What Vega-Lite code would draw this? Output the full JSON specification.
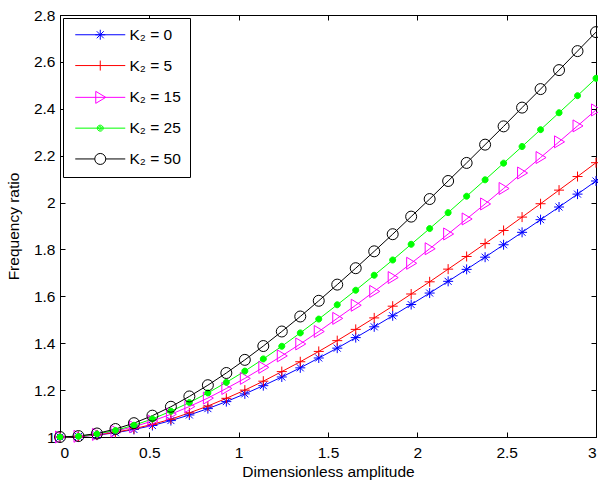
{
  "$schema": "https://vega.github.io/schema/vega-lite/v6.json",
  "width": 536,
  "height": 422,
  "autosize": {"type": "none"},
  "padding": {"left": 60, "top": 15, "right": 2, "bottom": 48},
  "background": "white",
  "config": {
    "font": "Liberation Sans",
    "view": {"stroke": "black", "strokeWidth": 1},
    "axis": {
      "grid": false, "domainColor": "black", "tickColor": "black", "labelColor": "black",
      "titleColor": "black", "labelFont": "Liberation Sans", "titleFont": "Liberation Sans",
      "labelFontSize": 15.5, "titleFontSize": 15.5, "titleFontWeight": "normal",
      "tickSize": -5, "domainWidth": 1, "tickWidth": 1
    },
    "legend": {"symbolOpacity": 1}
  },
  "data": {"values": [
    {"a":0,"y":1,"K":"0"},{"a":0.1034,"y":1.002,"K":"0"},{"a":0.2069,"y":1.008,"K":"0"},{"a":0.3103,"y":1.018,"K":"0"},{"a":0.4138,"y":1.032,"K":"0"},{"a":0.5172,"y":1.049,"K":"0"},{"a":0.6207,"y":1.070,"K":"0"},{"a":0.7241,"y":1.094,"K":"0"},{"a":0.8276,"y":1.121,"K":"0"},{"a":0.9310,"y":1.151,"K":"0"},{"a":1.0345,"y":1.184,"K":"0"},{"a":1.1379,"y":1.219,"K":"0"},{"a":1.2414,"y":1.256,"K":"0"},{"a":1.3448,"y":1.295,"K":"0"},{"a":1.4483,"y":1.337,"K":"0"},{"a":1.5517,"y":1.379,"K":"0"},{"a":1.6552,"y":1.424,"K":"0"},{"a":1.7586,"y":1.470,"K":"0"},{"a":1.8621,"y":1.517,"K":"0"},{"a":1.9655,"y":1.565,"K":"0"},{"a":2.0690,"y":1.614,"K":"0"},{"a":2.1724,"y":1.664,"K":"0"},{"a":2.2759,"y":1.715,"K":"0"},{"a":2.3793,"y":1.767,"K":"0"},{"a":2.4828,"y":1.820,"K":"0"},{"a":2.5862,"y":1.873,"K":"0"},{"a":2.6897,"y":1.927,"K":"0"},{"a":2.7931,"y":1.981,"K":"0"},{"a":2.8966,"y":2.036,"K":"0"},{"a":3,"y":2.092,"K":"0"},
    {"a":0,"y":1,"K":"5"},{"a":0.1034,"y":1.002,"K":"5"},{"a":0.2069,"y":1.009,"K":"5"},{"a":0.3103,"y":1.020,"K":"5"},{"a":0.4138,"y":1.035,"K":"5"},{"a":0.5172,"y":1.054,"K":"5"},{"a":0.6207,"y":1.076,"K":"5"},{"a":0.7241,"y":1.103,"K":"5"},{"a":0.8276,"y":1.132,"K":"5"},{"a":0.9310,"y":1.165,"K":"5"},{"a":1.0345,"y":1.200,"K":"5"},{"a":1.1379,"y":1.238,"K":"5"},{"a":1.2414,"y":1.279,"K":"5"},{"a":1.3448,"y":1.321,"K":"5"},{"a":1.4483,"y":1.365,"K":"5"},{"a":1.5517,"y":1.411,"K":"5"},{"a":1.6552,"y":1.459,"K":"5"},{"a":1.7586,"y":1.508,"K":"5"},{"a":1.8621,"y":1.558,"K":"5"},{"a":1.9655,"y":1.610,"K":"5"},{"a":2.0690,"y":1.662,"K":"5"},{"a":2.1724,"y":1.716,"K":"5"},{"a":2.2759,"y":1.770,"K":"5"},{"a":2.3793,"y":1.825,"K":"5"},{"a":2.4828,"y":1.881,"K":"5"},{"a":2.5862,"y":1.938,"K":"5"},{"a":2.6897,"y":1.995,"K":"5"},{"a":2.7931,"y":2.053,"K":"5"},{"a":2.8966,"y":2.111,"K":"5"},{"a":3,"y":2.170,"K":"5"},
    {"a":0,"y":1,"K":"15"},{"a":0.1034,"y":1.003,"K":"15"},{"a":0.2069,"y":1.011,"K":"15"},{"a":0.3103,"y":1.025,"K":"15"},{"a":0.4138,"y":1.044,"K":"15"},{"a":0.5172,"y":1.068,"K":"15"},{"a":0.6207,"y":1.097,"K":"15"},{"a":0.7241,"y":1.130,"K":"15"},{"a":0.8276,"y":1.166,"K":"15"},{"a":0.9310,"y":1.207,"K":"15"},{"a":1.0345,"y":1.250,"K":"15"},{"a":1.1379,"y":1.297,"K":"15"},{"a":1.2414,"y":1.346,"K":"15"},{"a":1.3448,"y":1.397,"K":"15"},{"a":1.4483,"y":1.450,"K":"15"},{"a":1.5517,"y":1.506,"K":"15"},{"a":1.6552,"y":1.562,"K":"15"},{"a":1.7586,"y":1.621,"K":"15"},{"a":1.8621,"y":1.680,"K":"15"},{"a":1.9655,"y":1.741,"K":"15"},{"a":2.0690,"y":1.803,"K":"15"},{"a":2.1724,"y":1.866,"K":"15"},{"a":2.2759,"y":1.930,"K":"15"},{"a":2.3793,"y":1.994,"K":"15"},{"a":2.4828,"y":2.060,"K":"15"},{"a":2.5862,"y":2.126,"K":"15"},{"a":2.6897,"y":2.192,"K":"15"},{"a":2.7931,"y":2.259,"K":"15"},{"a":2.8966,"y":2.327,"K":"15"},{"a":3,"y":2.395,"K":"15"},
    {"a":0,"y":1,"K":"25"},{"a":0.1034,"y":1.003,"K":"25"},{"a":0.2069,"y":1.013,"K":"25"},{"a":0.3103,"y":1.028,"K":"25"},{"a":0.4138,"y":1.050,"K":"25"},{"a":0.5172,"y":1.077,"K":"25"},{"a":0.6207,"y":1.110,"K":"25"},{"a":0.7241,"y":1.147,"K":"25"},{"a":0.8276,"y":1.188,"K":"25"},{"a":0.9310,"y":1.233,"K":"25"},{"a":1.0345,"y":1.281,"K":"25"},{"a":1.1379,"y":1.333,"K":"25"},{"a":1.2414,"y":1.387,"K":"25"},{"a":1.3448,"y":1.444,"K":"25"},{"a":1.4483,"y":1.503,"K":"25"},{"a":1.5517,"y":1.564,"K":"25"},{"a":1.6552,"y":1.626,"K":"25"},{"a":1.7586,"y":1.690,"K":"25"},{"a":1.8621,"y":1.755,"K":"25"},{"a":1.9655,"y":1.822,"K":"25"},{"a":2.0690,"y":1.889,"K":"25"},{"a":2.1724,"y":1.957,"K":"25"},{"a":2.2759,"y":2.027,"K":"25"},{"a":2.3793,"y":2.097,"K":"25"},{"a":2.4828,"y":2.168,"K":"25"},{"a":2.5862,"y":2.239,"K":"25"},{"a":2.6897,"y":2.311,"K":"25"},{"a":2.7931,"y":2.383,"K":"25"},{"a":2.8966,"y":2.456,"K":"25"},{"a":3,"y":2.530,"K":"25"},
    {"a":0,"y":1,"K":"50"},{"a":0.1034,"y":1.004,"K":"50"},{"a":0.2069,"y":1.015,"K":"50"},{"a":0.3103,"y":1.034,"K":"50"},{"a":0.4138,"y":1.059,"K":"50"},{"a":0.5172,"y":1.091,"K":"50"},{"a":0.6207,"y":1.129,"K":"50"},{"a":0.7241,"y":1.173,"K":"50"},{"a":0.8276,"y":1.221,"K":"50"},{"a":0.9310,"y":1.273,"K":"50"},{"a":1.0345,"y":1.329,"K":"50"},{"a":1.1379,"y":1.388,"K":"50"},{"a":1.2414,"y":1.450,"K":"50"},{"a":1.3448,"y":1.514,"K":"50"},{"a":1.4483,"y":1.581,"K":"50"},{"a":1.5517,"y":1.650,"K":"50"},{"a":1.6552,"y":1.720,"K":"50"},{"a":1.7586,"y":1.792,"K":"50"},{"a":1.8621,"y":1.865,"K":"50"},{"a":1.9655,"y":1.940,"K":"50"},{"a":2.0690,"y":2.015,"K":"50"},{"a":2.1724,"y":2.092,"K":"50"},{"a":2.2759,"y":2.169,"K":"50"},{"a":2.3793,"y":2.247,"K":"50"},{"a":2.4828,"y":2.325,"K":"50"},{"a":2.5862,"y":2.405,"K":"50"},{"a":2.6897,"y":2.484,"K":"50"},{"a":2.7931,"y":2.565,"K":"50"},{"a":2.8966,"y":2.646,"K":"50"},{"a":3,"y":2.727,"K":"50"}
  ]},
  "layer": [
    {
      "mark": {"type": "line", "strokeWidth": 1},
      "encoding": {
        "x": {"field": "a", "type": "quantitative", "scale": {"domain": [0, 3], "nice": false},
          "axis": {"title": "Dimensionless amplitude", "values": [0, 0.5, 1, 1.5, 2, 2.5, 3], "format": "~g", "labelPadding": 13, "titlePadding": 4}},
        "y": {"field": "y", "type": "quantitative", "scale": {"domain": [1, 2.8], "nice": false, "zero": false},
          "axis": {"title": "Frequency ratio", "values": [1, 1.2, 1.4, 1.6, 1.8, 2, 2.2, 2.4, 2.6, 2.8], "format": "~g", "labelPadding": 10, "titlePadding": 12}},
        "stroke": {"field": "K", "type": "nominal", "legend": null,
          "scale": {"domain": ["0", "5", "15", "25", "50"], "range": ["#0000ff", "#ff0000", "#ff00ff", "#00ff00", "#000000"]}}
      }
    },
    {
      "mark": {"type": "point", "size": 100, "strokeWidth": 1, "opacity": 1},
      "encoding": {
        "x": {"field": "a", "type": "quantitative", "scale": {"domain": [0, 3], "nice": false},
          "axis": {"orient": "top", "title": null, "labels": false, "domain": false, "values": [0, 0.5, 1, 1.5, 2, 2.5, 3]}},
        "y": {"field": "y", "type": "quantitative", "scale": {"domain": [1, 2.8], "nice": false, "zero": false},
          "axis": {"orient": "right", "title": null, "labels": false, "domain": false, "values": [1, 1.2, 1.4, 1.6, 1.8, 2, 2.2, 2.4, 2.6, 2.8]}},
        "shape": {"field": "K", "type": "nominal", "legend": null,
          "scale": {"domain": ["0", "5", "15", "25", "50"], "range": [
            "M-1,0L1,0M0,-1L0,1M-0.7,-0.7L0.7,0.7M-0.7,0.7L0.7,-0.7",
            "M-1,0L1,0M0,-1L0,1",
            "M-0.9,-1.2L1.1,0L-0.9,1.2Z",
            "M0.6,0A0.6,0.6,0,1,1,-0.6,0A0.6,0.6,0,1,1,0.6,0Z",
            "M1.1,0A1.1,1.1,0,1,1,-1.1,0A1.1,1.1,0,1,1,1.1,0Z"]}},
        "stroke": {"field": "K", "type": "nominal", "legend": null,
          "scale": {"domain": ["0", "5", "15", "25", "50"], "range": ["#0000ff", "#ff0000", "#ff00ff", "#00ff00", "#000000"]}},
        "fill": {"field": "K", "type": "nominal", "legend": null,
          "scale": {"domain": ["0", "5", "15", "25", "50"], "range": ["transparent", "transparent", "transparent", "#00ff00", "transparent"]}}
      }
    },
    {
      "mark": {"type": "point", "size": 100, "strokeWidth": 1, "opacity": 0},
      "encoding": {
        "x": {"field": "a", "type": "quantitative", "scale": {"domain": [0, 3], "nice": false}, "axis": null},
        "y": {"field": "y", "type": "quantitative", "scale": {"domain": [1, 2.8], "nice": false, "zero": false}, "axis": null},
        "color": {"field": "K", "type": "nominal",
          "scale": {"domain": ["0", "5", "15", "25", "50"], "range": ["#0000ff", "#ff0000", "#ff00ff", "#00ff00", "#000000"]},
          "legend": {
            "orient": "none", "legendX": 3, "legendY": 3, "title": null,
            "padding": 9, "strokeColor": "black", "fillColor": "white", "cornerRadius": 0,
            "rowPadding": 13.8, "labelFontSize": 15.5, "labelFont": "Liberation Sans", "labelColor": "black",
            "symbolSize": 100, "symbolOffset": 20.5, "labelOffset": 21.5, "symbolStrokeWidth": 1, "labelLimit": 200,
            "symbolOpacity": 1, "labelExpr": "'K₂ = ' + datum.label"
          }},
        "shape": {"field": "K", "type": "nominal",
          "scale": {"domain": ["0", "5", "15", "25", "50"], "range": [
            "M-5,0L5,0M-1,0L1,0M0,-1L0,1M-0.7,-0.7L0.7,0.7M-0.7,0.7L0.7,-0.7",
            "M-5,0L5,0M0,-1L0,1",
            "M-5,0L5,0M-0.9,-1.2L1.1,0L-0.9,1.2Z",
            "M-5,0L5,0M0.6,0A0.6,0.6,0,1,1,-0.6,0A0.6,0.6,0,1,1,0.6,0ZM0.35,0A0.35,0.35,0,1,1,-0.35,0A0.35,0.35,0,1,1,0.35,0ZM0.1,0A0.1,0.1,0,1,1,-0.1,0A0.1,0.1,0,1,1,0.1,0Z",
            "M-5,0L-1.1,0M1.1,0L5,0M1.1,0A1.1,1.1,0,1,1,-1.1,0A1.1,1.1,0,1,1,1.1,0Z"]},
          "legend": {
            "orient": "none", "legendX": 3, "legendY": 3, "title": null,
            "padding": 9, "strokeColor": "black", "fillColor": "white", "cornerRadius": 0,
            "rowPadding": 13.8, "labelFontSize": 15.5, "labelFont": "Liberation Sans", "labelColor": "black",
            "symbolSize": 100, "symbolOffset": 20.5, "labelOffset": 21.5, "symbolStrokeWidth": 1, "labelLimit": 200,
            "symbolOpacity": 1, "labelExpr": "'K₂ = ' + datum.label"
          }}
      }
    }
  ],
  "resolve": {"scale": {"x": "independent", "y": "independent", "shape": "independent", "color": "independent"}, "axis": {"x": "independent", "y": "independent"}}
}
